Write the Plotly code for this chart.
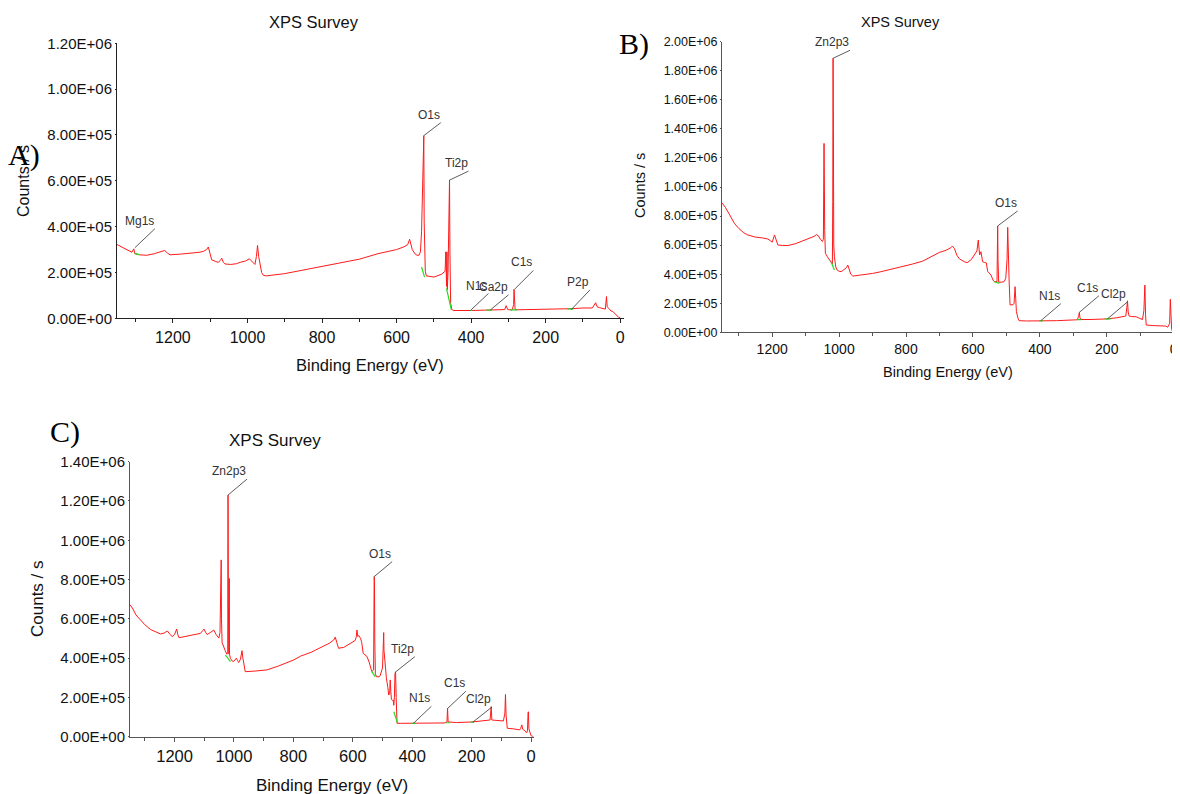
import plotly.graph_objects as go

# ---------------- Panel A data ----------------
A_be = [1350, 1330, 1310, 1305, 1302, 1290, 1270, 1250, 1230, 1222, 1215, 1208, 1180, 1150, 1130, 1118,
        1110, 1105, 1100, 1096, 1085, 1078, 1072, 1069, 1065, 1060, 1045, 1030, 1020, 1005, 995, 988,
        980, 976, 973, 970, 966, 962, 958, 950, 900, 850, 800, 750, 700, 650, 600, 580, 570, 565,
        562, 558, 550, 545, 540, 536, 533, 531, 528, 527, 526, 525, 523, 520, 500, 480, 472, 470,
        468, 467, 466, 465, 464, 462, 460, 458, 457, 455, 452, 448, 400, 350, 310, 306, 302, 290,
        286, 285, 284, 282, 250, 200, 150, 130, 100, 75, 66, 62, 55, 40, 37, 35, 30, 25, 20, 15,
        10, 5, 0]
A_counts = [322000, 305000, 288000, 303000, 282000, 277000, 275000, 282000, 290000, 296000, 285000, 277000,
            280000, 284000, 288000, 292000, 300000, 311000, 285000, 255000, 248000, 244000, 255000, 262000,
            245000, 237000, 235000, 238000, 244000, 250000, 260000, 250000, 235000, 270000, 318000, 270000,
            230000, 200000, 188000, 185000, 195000, 210000, 225000, 240000, 258000, 282000, 300000, 312000,
            322000, 345000, 320000, 300000, 280000, 275000, 275000, 290000, 380000, 560000, 720000, 797000,
            420000, 230000, 205000, 185000, 180000, 192000, 200000, 205000, 290000, 150000, 140000, 290000,
            125000, 200000, 560000, 603000, 300000, 65000, 40000, 34000, 34000, 35000, 38000, 55000,
            38000, 36000, 60000, 126000, 80000, 37000, 38000, 39000, 40000, 42000, 45000, 45000,
            68000, 50000, 46000, 40000, 95000, 50000, 42000, 32000, 30000, 22000, 12000, 5000, 2000]
A_green_be = [1303, 1290, None, 533, 525, None, 466, 460, 453, None, 404, 397, None, 359, 344, None,
              295, 277, None, 142, 126]
A_green_counts = [283000, 278000, None, 224000, 180000, None, 130000, 90000, 36000, None, 34000, 34000, None,
                  36000, 36000, None, 37000, 37000, None, 41000, 41000]
A_peak_names = ["Mg1s", "O1s", "Ti2p", "N1s", "Ca2p", "C1s", "P2p"]
A_peak_be = [1302, 527, 458, 402, 348, 284, 132]
A_peak_counts = [308000, 797000, 603000, 34000, 37000, 126000, 37000]
A_yticks = [0, 200000, 400000, 600000, 800000, 1000000, 1200000]
A_yticklabels = ["0.00E+00", "2.00E+05", "4.00E+05", "6.00E+05", "8.00E+05", "1.00E+06", "1.20E+06"]

# ---------------- Panel B data ----------------
B_be = [1350, 1340, 1325, 1313, 1300, 1285, 1273, 1250, 1230, 1213, 1205, 1200, 1193, 1188, 1183, 1170,
        1153, 1130, 1113, 1090, 1075, 1068, 1062, 1056, 1050, 1047, 1045, 1043, 1041, 1035, 1028, 1024,
        1020, 1019, 1018, 1017, 1016, 1014, 1010, 1006, 1000, 994, 989, 984, 978, 974, 970, 965, 959,
        930, 900, 875, 850, 815, 780, 750, 725, 700, 680, 666, 661, 655, 648, 640, 625, 617, 605, 595,
        588, 584, 580, 576, 571, 565, 560, 556, 550, 546, 540, 536, 528, 527, 526, 525, 523, 515, 507,
        502, 498, 496, 494, 492, 489, 480, 477, 474, 472, 470, 465, 462, 440, 400, 350, 300, 288, 284,
        282, 280, 277, 250, 200, 170, 150, 143, 140, 138, 136, 133, 125, 112, 102, 98, 93, 89, 86, 84,
        82, 60, 40, 24, 18, 12, 10, 8, 6, 3, 0]
B_counts = [890000, 860000, 800000, 750000, 715000, 685000, 670000, 655000, 650000, 642000, 630000, 620000,
            670000, 630000, 601000, 598000, 597000, 610000, 625000, 645000, 660000, 672000, 665000, 640000,
            625000, 640000, 1300000, 700000, 544000, 520000, 500000, 486000, 470000, 900000, 1886000, 1400000,
            600000, 520000, 450000, 429000, 420000, 418000, 425000, 433000, 445000, 463000, 440000, 400000,
            387000, 395000, 405000, 417000, 430000, 450000, 470000, 490000, 520000, 550000, 565000, 582000,
            594000, 575000, 530000, 505000, 485000, 479000, 500000, 540000, 560000, 635000, 532000, 555000,
            486000, 480000, 478000, 420000, 400000, 394000, 360000, 348000, 350000, 600000, 732000, 500000,
            345000, 345000, 348000, 370000, 500000, 722000, 450000, 370000, 188000, 190000, 200000, 314000,
            230000, 142000, 95000, 80000, 78000, 78000, 80000, 85000, 86000, 110000, 135000, 100000, 88000,
            88000, 92000, 100000, 108000, 112000, 170000, 217000, 140000, 112000, 108000, 107000, 96000,
            90000, 88000, 150000, 325000, 120000, 50000, 46000, 45000, 43000, 35000, 60000, 227000, 100000,
            20000, 5000, 3000]
B_green_be = [1024, 1014, None, 536, 521, None, 402, 392, None, 288, 276, None, 206, 188]
B_green_counts = [486000, 429000, None, 348000, 337000, None, 79000, 79000, None, 87000, 87000, None,
                  93000, 93000]
B_peak_names = ["Zn2p3", "O1s", "N1s", "C1s", "Cl2p"]
B_peak_be = [1018, 526, 397, 283, 198]
B_peak_counts = [1886000, 732000, 80000, 135000, 92000]
B_yticks = [0, 200000, 400000, 600000, 800000, 1000000, 1200000, 1400000, 1600000, 1800000, 2000000]
B_yticklabels = ["0.00E+00", "2.00E+05", "4.00E+05", "6.00E+05", "8.00E+05", "1.00E+06", "1.20E+06",
                 "1.40E+06", "1.60E+06", "1.80E+06", "2.00E+06"]

# ---------------- Panel C data ----------------
C_be = [1350, 1340, 1330, 1314, 1300, 1280, 1260, 1247, 1235, 1224, 1215, 1208, 1200, 1193, 1189, 1185,
        1165, 1140, 1113, 1105, 1101, 1095, 1090, 1080, 1068, 1060, 1051, 1047, 1045, 1043, 1042, 1040,
        1030, 1024, 1021, 1020, 1019, 1017, 1016, 1015, 1012, 1006, 1001, 996, 992, 988, 984, 978, 973,
        970, 966, 962, 930, 889, 850, 800, 776, 740, 700, 680, 664, 659, 654, 648, 630, 608, 600, 592,
        588, 586, 583, 580, 574, 570, 565, 558, 553, 545, 540, 536, 530, 528, 527, 526, 524, 520, 512,
        508, 500, 497, 496, 495, 492, 490, 487, 482, 479, 476, 474, 472, 470, 466, 464, 462, 460, 458,
        456, 454, 452, 451, 440, 400, 340, 290, 283, 281, 279, 250, 199, 170, 150, 138, 136, 134, 132,
        120, 100, 93, 88, 86, 84, 80, 60, 45, 38, 35, 31, 28, 20, 15, 12, 10, 9, 7, 3, 0, -8]
C_counts = [672000, 650000, 620000, 594000, 570000, 545000, 530000, 523000, 528000, 538000, 520000, 510000,
            520000, 548000, 520000, 504000, 510000, 518000, 526000, 540000, 548000, 530000, 520000, 530000,
            543000, 520000, 502000, 530000, 700000, 900000, 600000, 480000, 440000, 420000, 430000, 1230000,
            700000, 420000, 806000, 420000, 399000, 385000, 383000, 395000, 400000, 388000, 378000, 395000,
            438000, 400000, 360000, 331000, 334000, 340000, 360000, 390000, 410000, 430000, 460000, 475000,
            492000, 507000, 480000, 450000, 455000, 475000, 480000, 490000, 510000, 543000, 510000, 515000,
            501000, 480000, 424000, 415000, 410000, 380000, 350000, 331000, 340000, 815000, 790000, 500000,
            320000, 305000, 305000, 310000, 350000, 480000, 530000, 440000, 380000, 320000, 300000, 250000,
            212000, 220000, 289000, 230000, 190000, 185000, 187000, 160000, 200000, 320000, 331000, 200000,
            90000, 68000, 68000, 68000, 70000, 70000, 75000, 145000, 75000, 72000, 75000, 78000, 82000,
            85000, 120000, 153000, 85000, 83000, 80000, 80000, 120000, 215000, 110000, 43000, 40000, 38000,
            35000, 42000, 60000, 38000, 30000, 20000, 30000, 120000, 127000, 40000, 15000, 5000, 0]
C_green_be = [1029, 1012, None, 536, 524, None, 462, 449, None, 400, 389, None, 285, 272, None, 203, 192]
C_green_counts = [416000, 382000, None, 331000, 305000, None, 127000, 68000, None, 68000, 68000, None,
                  71000, 71000, None, 74000, 74000]
C_peak_names = ["Zn2p3", "O1s", "Ti2p", "N1s", "C1s", "Cl2p"]
C_peak_be = [1020, 528, 455, 396, 280, 196]
C_peak_counts = [1230000, 815000, 331000, 68000, 145000, 74000]
C_yticks = [0, 200000, 400000, 600000, 800000, 1000000, 1200000, 1400000]
C_yticklabels = ["0.00E+00", "2.00E+05", "4.00E+05", "6.00E+05", "8.00E+05", "1.00E+06", "1.20E+06",
                 "1.40E+06"]

X_RANGE = [1350, -10]

# ---------------- Layout helpers ----------------
# The page body adds an 8px margin at top-left, so the figure is drawn 8px
# smaller and positions are given in page pixels minus that offset.
OFF = 8
W, H = 1180 - OFF, 794 - OFF
FONT = "Liberation Sans, Arial, sans-serif"
SERIF = "Liberation Serif, Times New Roman, serif"


def px(x):
    return (x - OFF) / W


def py(y):
    return 1 - (y - OFF) / H


panels = [
    dict(be=A_be, c=A_counts, gbe=A_green_be, gc=A_green_counts, names=A_peak_names, pbe=A_peak_be,
         pc=A_peak_counts, yt=A_yticks, ytl=A_yticklabels, yr=[0, 1200000],
         dom_x=(117, 624), dom_y=(43.3, 318.3), ytf=15, xtf=16, axcol="#222",
         offs=[(20, -19), (17, -13), (19, -9), (18, -17), (18, -15), (19, -19), (19, -20)]),
    dict(be=B_be, c=B_counts, gbe=B_green_be, gc=B_green_counts, names=B_peak_names, pbe=B_peak_be,
         pc=B_peak_counts, yt=B_yticks, ytl=B_yticklabels, yr=[0, 2000000],
         dom_x=(722, 1177), dom_y=(41.7, 332.3), ytf=12.5, xtf=14, axcol="#555",
         offs=[(17, -8), (20, -15), (20, -17), (20, -17), (20, -17)]),
    dict(be=C_be, c=C_counts, gbe=C_green_be, gc=C_green_counts, names=C_peak_names, pbe=C_peak_be,
         pc=C_peak_counts, yt=C_yticks, ytl=C_yticklabels, yr=[0, 1400000],
         dom_x=(130, 534), dom_y=(461.7, 736.7), ytf=15, xtf=16.5, axcol="#555",
         offs=[(19, -16), (18, -15), (19, -15), (18, -17), (18, -17), (19, -15)]),
]

fig = go.Figure()
layout = dict(width=W, height=H, margin=dict(l=0, r=0, t=0, b=0, pad=0, autoexpand=False),
              template="none", paper_bgcolor="white",
              plot_bgcolor="white", showlegend=False, font=dict(family=FONT, color="#111"))
annotations = []

for i, p in enumerate(panels):
    n = "" if i == 0 else str(i + 1)
    xa, ya = "x" + n, "y" + n
    fig.add_trace(go.Scatter(x=p["be"], y=p["c"], mode="lines", line=dict(color="#ff1a1a", width=1),
                             xaxis=xa, yaxis=ya, hoverinfo="skip"))
    fig.add_trace(go.Scatter(x=p["gbe"], y=p["gc"], mode="lines", line=dict(color="#22dd22", width=1.2),
                             xaxis=xa, yaxis=ya, hoverinfo="skip", connectgaps=False))
    layout["xaxis" + n] = dict(
        domain=[px(p["dom_x"][0]), min(1.0, px(p["dom_x"][1]))], range=X_RANGE, anchor=ya,
        automargin=False,
        showgrid=False, zeroline=False, showline=True, linecolor=p["axcol"], linewidth=1,
        ticks="outside", ticklen=4, tickcolor=p["axcol"], tickwidth=1, tick0=0, dtick=200,
        minor=dict(dtick=100, ticks="outside", ticklen=3, tickcolor=p["axcol"], showgrid=False),
        tickfont=dict(size=p["xtf"], family=FONT, color="#111"), fixedrange=True)
    layout["yaxis" + n] = dict(
        domain=[py(p["dom_y"][1]), py(p["dom_y"][0])], range=p["yr"], anchor=xa, automargin=False,
        showgrid=False, zeroline=False, showline=True, linecolor=p["axcol"], linewidth=1,
        ticks="outside", ticklen=1, tickcolor=p["axcol"], tickmode="array", tickvals=p["yt"],
        ticktext=p["ytl"], tickfont=dict(size=p["ytf"], family=FONT, color="#111"), fixedrange=True)
    for name, b, c, (dx, dy) in zip(p["names"], p["pbe"], p["pc"], p["offs"]):
        annotations.append(dict(x=b, y=c, xref=xa, yref=ya, text=name, showarrow=True, arrowhead=0,
                                arrowwidth=0.8, arrowcolor="#333", ax=dx, ay=dy, xanchor="right",
                                yanchor="bottom", standoff=0, borderpad=0,
                                font=dict(size=12, family=FONT, color="#333")))

# titles, axis titles and panel letters
texts = [
    ("XPS Survey", 314, 22, 16.5, FONT, 0), ("XPS Survey", 900, 22, 14.5, FONT, 0),
    ("XPS Survey", 275, 440, 17, FONT, 0),
    ("Binding Energy (eV)", 370, 365, 16.5, FONT, 0), ("Binding Energy (eV)", 948, 372, 14.5, FONT, 0),
    ("Binding Energy (eV)", 332, 785, 17, FONT, 0),
    ("Counts / s", 23, 181, 16, FONT, -90), ("Counts / s", 640, 186, 14.5, FONT, -90),
    ("Counts / s", 37, 599, 17, FONT, -90),
]
for t, x, y, s, f, rot in texts:
    annotations.append(dict(text=t, x=px(x), y=py(y), xref="paper", yref="paper", showarrow=False,
                            xanchor="center", yanchor="middle", textangle=rot,
                            font=dict(size=s, family=f, color="#111")))
for t, x, y in [("A)", 24, 155), ("B)", 634, 44), ("C)", 65, 432)]:
    annotations.append(dict(text=t, x=px(x), y=py(y), xref="paper", yref="paper", showarrow=False,
                            xanchor="center", yanchor="middle", font=dict(size=30, family=SERIF, color="#000")))

layout["annotations"] = annotations
fig.update_layout(**layout)
fig.write_html("out.html")
